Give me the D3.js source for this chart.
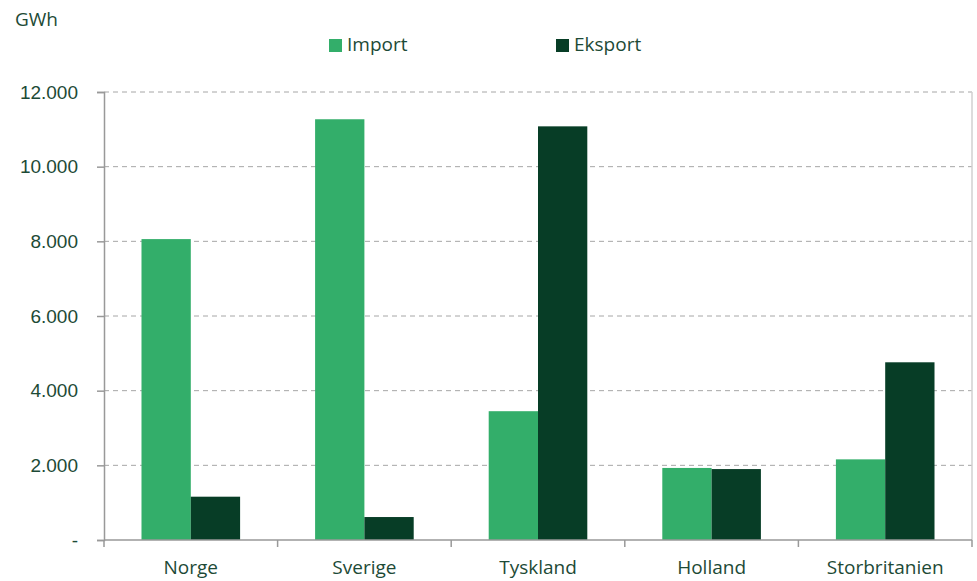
<!DOCTYPE html>
<html>
<head>
<meta charset="utf-8">
<script src="https://cdn.jsdelivr.net/npm/d3@7"></script>
<style>
  html, body { margin: 0; padding: 0; background: #fff; }
  svg { display: block; font-family: "Open Sans", Lato, sans-serif; }
</style>
</head>
<body>
<svg id="chart" width="977" height="581"></svg>
<script>
// Electricity exchange per neighbouring country (GWh)
const countries = ["Norge", "Sverige", "Tyskland", "Holland", "Storbritanien"];
const importValues = [8060, 11270, 3450, 1930, 2160];
const exportValues = [1160, 615, 11080, 1900, 4760];
const seriesNames = ["Import", "Eksport"];
const yTicks = [0, 2000, 4000, 6000, 8000, 10000, 12000];

const colors = { Import: "#33ae6a", Eksport: "#073d26" };
const textColor = "#1d4a36";
const fontSize = "19px";

const svg = d3.select("#chart");
const margin = { left: 104, right: 5, top: 92, bottom: 41 };
const W = 977, H = 581;
const innerW = W - margin.left - margin.right;
const innerH = H - margin.top - margin.bottom;

const g = svg.append("g").attr("transform", `translate(${margin.left},${margin.top})`);

const x0 = d3.scaleBand().domain(countries).range([0, innerW]).paddingInner(0).paddingOuter(0);
const x1 = d3.scaleBand().domain(seriesNames).range([x0.bandwidth() * 0.216, x0.bandwidth() * 0.784]);
const y = d3.scaleLinear().domain([0, 12000]).range([innerH, 0]);

// dashed gridlines
g.append("g").selectAll("line").data(yTicks.filter(d => d > 0)).join("line")
  .attr("x1", 0).attr("x2", innerW)
  .attr("y1", d => y(d)).attr("y2", d => y(d))
  .attr("stroke", "#a6a6a6").attr("stroke-width", 1).attr("stroke-dasharray", "5,4");

// bars
const rows = countries.map((c, i) => ({ c, values: [
  { s: "Import", v: importValues[i] },
  { s: "Eksport", v: exportValues[i] }
]}));

g.append("g").selectAll("g").data(rows).join("g")
  .attr("transform", d => `translate(${x0(d.c)},0)`)
  .selectAll("rect").data(d => d.values).join("rect")
  .attr("x", d => x1(d.s))
  .attr("width", x1.bandwidth())
  .attr("y", d => y(d.v))
  .attr("height", d => y(0) - y(d.v))
  .attr("fill", d => colors[d.s]);

// y axis
const fmt = v => v === 0 ? "-" : d3.format(",")(v).replace(/,/g, ".");
const yAxis = g.append("g").call(d3.axisLeft(y).tickValues(yTicks).tickFormat(fmt).tickSize(7).tickPadding(19));
yAxis.select(".domain").attr("stroke", "#999").attr("stroke-width", 1.5);
yAxis.selectAll(".tick line").attr("stroke", "#999").attr("stroke-width", 1.5);
yAxis.selectAll(".tick text").attr("fill", textColor).style("font-size", fontSize);

// right border
g.append("line").attr("x1", innerW).attr("x2", innerW).attr("y1", 0).attr("y2", innerH)
  .attr("stroke", "#d0d0d0").attr("stroke-width", 1.5);

// x axis with ticks at category boundaries
const xa = g.append("g").attr("transform", `translate(0,${innerH})`);
xa.append("line").attr("x1", 0).attr("x2", innerW).attr("stroke", "#999").attr("stroke-width", 1.5);
const boundaries = countries.map(c => x0(c)).concat([innerW]);
xa.selectAll("line.tk").data(boundaries).join("line").attr("class", "tk")
  .attr("x1", d => d).attr("x2", d => d).attr("y1", 0).attr("y2", 7)
  .attr("stroke", "#999").attr("stroke-width", 1.5);
xa.selectAll("text").data(countries).join("text")
  .attr("x", d => x0(d) + x0.bandwidth() / 2)
  .attr("y", 34)
  .attr("text-anchor", "middle")
  .attr("fill", textColor).style("font-size", fontSize)
  .text(d => d);

// unit label
svg.append("text").attr("x", 15).attr("y", 26).attr("fill", textColor).style("font-size", fontSize).text("GWh");

// legend
const legendX = { Import: 329, Eksport: 556 };
const lg = svg.append("g").selectAll("g").data(seriesNames).join("g")
  .attr("transform", d => `translate(${legendX[d]},39)`);
lg.append("rect").attr("width", 13).attr("height", 13).attr("fill", d => colors[d]);
lg.append("text").attr("x", 18).attr("y", 12).attr("fill", textColor).style("font-size", fontSize).text(d => d);
</script>
</body>
</html>
